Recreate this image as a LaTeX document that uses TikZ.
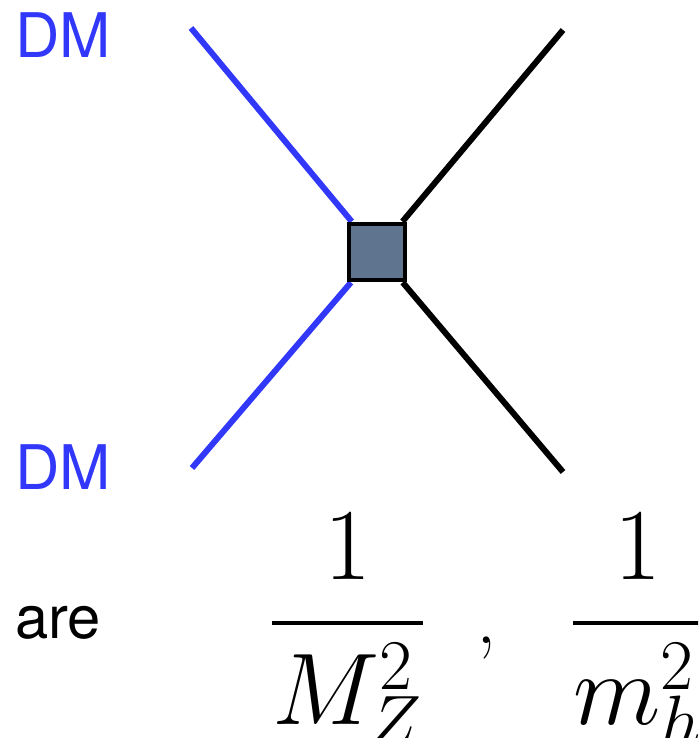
\documentclass[tikz,border=0pt]{standalone}
\usepackage{fix-cm}
\usepackage{amsmath}
\usepackage{fontspec}
\newfontfamily\helvfont{TeX Gyre Heros}
\definecolor{dmblue}{RGB}{50,56,250}
\definecolor{vtxgray}{RGB}{95,116,142}
\usetikzlibrary{positioning,backgrounds}
\newcommand{\supfrac}[1]{\genfrac{}{}{2.3pt}{0}{1}{\rule{0pt}{50pt}#1}}

\begin{document}
\begin{tikzpicture}[x=0.02cm, y=-0.02cm,
  dmline/.style={line width=3.4pt, draw=dmblue},
  smline/.style={line width=3.4pt, draw=black},
  sflabel/.style={font=\helvfont\fontsize{35}{40}\selectfont, anchor=base west, inner sep=0pt},
  fraclabel/.style={font=\fontsize{58}{64}\selectfont, anchor=base west, inner sep=0pt}]
  \useasboundingbox (0,0) rectangle (698,738);
  \clip (0,0) rectangle (698,738);

  % Effective vertex
  \node[draw, line width=2.8pt, fill=vtxgray, minimum size=1.12cm, inner sep=0pt] (vtx) at (377,252) {};

  % External legs
  \coordinate (dmin)  at (191,28);
  \coordinate (dmout) at (192,468);
  \coordinate (smin)  at (563,30);
  \coordinate (smout) at (563,472);
  \begin{pgfonlayer}{background}
    \draw[dmline] (dmin) -- (vtx);
    \draw[dmline] (dmout) -- (vtx);
    \draw[smline] (smin) -- (vtx);
    \draw[smline] (smout) -- (vtx);
  \end{pgfonlayer}

  % Labels
  \node[sflabel, text=dmblue] (dmtop) at (15,57) {DM};
  \node[sflabel, text=dmblue] (dmbot) at (15,489) {DM};
  \node[sflabel, font=\helvfont\fontsize{34}{40}\selectfont] (are) at (15,638) {are};

  % Suppression factors
  \node[fraclabel] (zfrac) at (270,648) {$\supfrac{M_Z^2}$};
  \node[font=\fontsize{46}{50}\selectfont, anchor=base west, inner sep=0pt] (sep) at (476,643) {,};
  \node[fraclabel] (hfrac) at (571,648) {$\supfrac{m_h^2}$};
\end{tikzpicture}
\end{document}
